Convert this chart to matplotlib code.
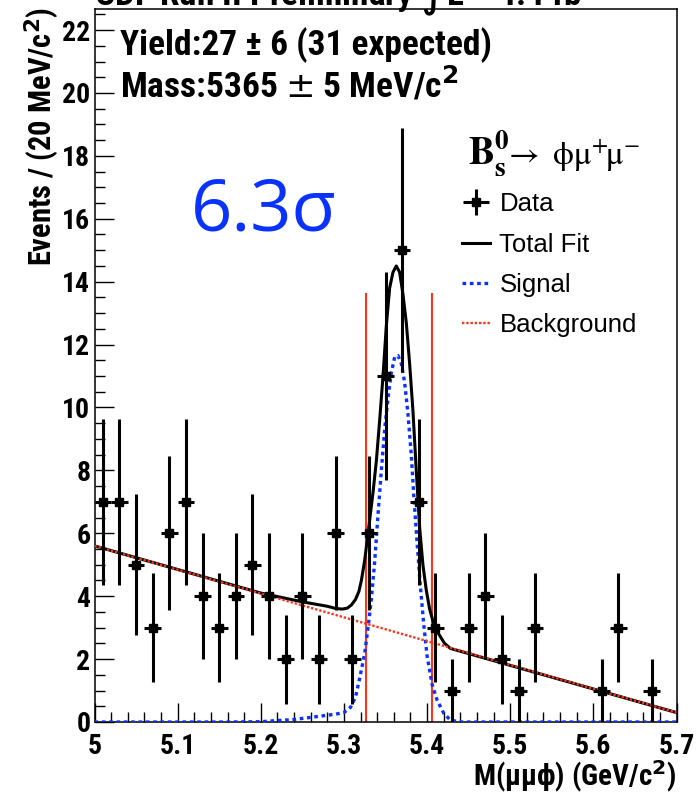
import numpy as np
import matplotlib
matplotlib.use("Agg")
import matplotlib.pyplot as plt
from matplotlib import font_manager
from matplotlib.ticker import MultipleLocator, FuncFormatter

# Data: candidates per 20 MeV bin, 5.0 - 5.7 GeV
bin_lo = 5.0
bin_width = 0.02
counts = [7, 7, 5, 3, 6, 7, 4, 3, 4, 5, 4, 2, 4, 2, 6, 2, 6, 11, 15, 7,
          3, 1, 3, 4, 2, 1, 3, 0, 0, 0, 1, 3, 0, 1, 0]

# Fit components
bkg_mass = [5.0, 5.7]
bkg_vals = [5.6, 0.3]

sig_mass = [5.00, 5.16, 5.20, 5.24, 5.27, 5.29, 5.30, 5.308, 5.314, 5.319,
            5.325, 5.329, 5.333, 5.337, 5.341, 5.345, 5.349, 5.353, 5.357,
            5.361, 5.365, 5.369, 5.373, 5.377, 5.381, 5.384, 5.388, 5.392,
            5.396, 5.400, 5.406, 5.412, 5.420, 5.428, 5.44, 5.70]
sig_vals = [0.0, 0.0, 0.01, 0.08, 0.18, 0.25, 0.30, 0.47, 0.8, 1.4,
            2.18, 3.0, 3.9, 5.1, 6.6, 8.0, 9.3, 10.3, 11.1,
            11.6, 11.65, 11.4, 10.8, 9.8, 8.5, 7.2, 5.7, 4.3,
            3.1, 2.1, 1.2, 0.7, 0.28, 0.06, 0.0, 0.0]

fit_mass = [5.0, 5.1, 5.2, 5.25, 5.28, 5.29, 5.298, 5.304, 5.309, 5.314,
            5.318, 5.321, 5.325, 5.329, 5.335, 5.339, 5.343, 5.347, 5.351,
            5.355, 5.359, 5.363, 5.367, 5.371, 5.375, 5.379, 5.383, 5.387,
            5.391, 5.395, 5.399, 5.403, 5.408, 5.414, 5.421, 5.428, 5.7]
fit_vals = [5.6, 4.85, 4.1, 3.82, 3.68, 3.61, 3.59, 3.62, 3.72, 3.9,
            4.15, 4.5, 5.15, 6.0, 7.3, 8.3, 9.6, 11.0, 12.6,
            13.8, 14.3, 14.5, 14.3, 13.6, 12.7, 11.4, 9.9, 8.0,
            6.2, 5.0, 4.2, 3.6, 3.12, 2.8, 2.5, 2.34, 0.3]

# signal window lines
window = [5.327, 5.406]
window_top = 13.65

BLUE = '#0a32ff'
RED = '#ff3319'

# look for a narrow bold face (Helvetica-Narrow look), else plain Liberation Sans
fonts = font_manager.fontManager.ttflist
names = {f.name for f in fonts}
narrow = None
for n in ['Roboto Condensed', 'Liberation Sans Narrow', 'Open Sans Condensed',
          'DejaVu Sans Condensed', 'Noto Sans Condensed']:
    if n in names:
        narrow = n
        break
stretch = 'normal'
if narrow is None and any(f.name == 'DejaVu Sans' and f.stretch == 'condensed' for f in fonts):
    narrow = 'DejaVu Sans'
    stretch = 'condensed'
if narrow is None:
    bold_font = ['Liberation Sans', 'DejaVu Sans']
    scale = 0.84
else:
    bold_font = [narrow, 'DejaVu Sans']
    scale = 1.0
reg_font = ['Liberation Sans', 'DejaVu Sans']


def bold(size):
    return dict(family=bold_font, fontweight='bold', fontstretch=stretch,
                fontsize=size * scale)


fig = plt.figure(figsize=(6.98, 7.96), dpi=100)
ax = fig.add_axes([94.5 / 698, 74 / 796, 582 / 698, 712.7 / 796])

counts = np.array(counts, dtype=float)
centers = bin_lo + bin_width * (np.arange(len(counts)) + 0.5)
keep = counts > 0

# fit curves
sig_line, = ax.plot(sig_mass, sig_vals, color=BLUE, lw=2.4, ls=(0, (1.1, 1.1)),
                    zorder=3)
fit_line, = ax.plot(fit_mass, fit_vals, color='black', lw=2.2, zorder=4)
bkg_line, = ax.plot(bkg_mass, bkg_vals, color=RED, lw=1.7, ls=(0, (1, 0.8)),
                    zorder=5)
ax.vlines(window, 0, window_top, color=RED, lw=1.5, zorder=2)

data = ax.errorbar(centers[keep], counts[keep], yerr=np.sqrt(counts[keep]),
                   xerr=bin_width / 2, fmt='s', color='black', ms=6,
                   elinewidth=2.2, capsize=0, zorder=6)

ax.set_xlim(5.0, 5.7)
ax.set_ylim(0, 22.66)
ax.xaxis.set_major_locator(MultipleLocator(0.1))
ax.xaxis.set_minor_locator(MultipleLocator(0.02))
ax.yaxis.set_major_locator(MultipleLocator(2))
ax.yaxis.set_minor_locator(MultipleLocator(0.5))
ax.xaxis.set_major_formatter(FuncFormatter(lambda v, p: '{:g}'.format(round(v, 2))))
ax.yaxis.set_major_formatter(FuncFormatter(lambda v, p: '{:d}'.format(int(round(v)))))
ax.tick_params(which='both', direction='in', top=False, right=False, width=1.0)
ax.tick_params(which='major', length=14)
ax.tick_params(which='minor', length=7)
ax.tick_params(axis='x', which='major', pad=8)
ax.tick_params(axis='y', which='major', pad=3)
for lab in ax.get_xticklabels() + ax.get_yticklabels():
    lab.set_family(bold_font)
    lab.set_fontweight('bold')
    lab.set_fontstretch(stretch)
    lab.set_fontsize(20 * scale)
for sp in ax.spines.values():
    sp.set_linewidth(1.1)

ax.text(1.0, -0.077, r'M($\mathregular{\mu\mu\phi}$) (GeV/c$^{\mathbf{2}}$)',
        transform=ax.transAxes, ha='right', va='center', **bold(21))
ax.text(-0.09, 1.003, r'Events / (20 MeV/c$^{\mathbf{2}}$)',
        transform=ax.transAxes, ha='center', va='top', rotation=90, **bold(22))

ax.text(0.044, 0.95, 'Yield:27 \u00b1 6 (31 expected)', transform=ax.transAxes,
        ha='left', va='center', **bold(25.5))
ax.text(0.044, 0.893, r'Mass:5365 $\pm$ 5 MeV/c$^{\mathbf{2}}$', transform=ax.transAxes,
        ha='left', va='center', **bold(25.5))
ax.text(0.291, 0.716, '6.3\u03c3', transform=ax.transAxes, ha='center', va='center',
        color=BLUE, family=['Open Sans', 'DejaVu Sans'], fontsize=52)

fig.text(94 / 698, 1 - 5 / 796, 'CDF Run II Preliminary \u222bL = 4.4 fb$^{-1}$',
         ha='left', va='baseline', **bold(25.5))

# legend header: decay channel
hdr = ax.text(0.641, 0.7815, r'$\mathbf{B_s^0}$', transform=ax.transAxes,
              ha='left', va='baseline', fontsize=28)
hdr.set_math_fontfamily('stix')
hdr2 = ax.text(0.703, 0.7815, r'$\rightarrow\ \mathrm{\phi\mu^{+}\!\mu^{-}}$',
               transform=ax.transAxes, ha='left', va='baseline', fontsize=24)
hdr2.set_math_fontfamily('stix')

handles = [data, fit_line, sig_line, bkg_line]
labels = ['Data', 'Total Fit', 'Signal', 'Background']
leg = ax.legend(handles, labels, loc='upper left', bbox_to_anchor=(0.592, 0.776),
                frameon=False, prop={'family': reg_font, 'size': 18.5},
                handlelength=1.1, handletextpad=0.35, labelspacing=0.64)

fig.savefig('out.png', dpi=100)
